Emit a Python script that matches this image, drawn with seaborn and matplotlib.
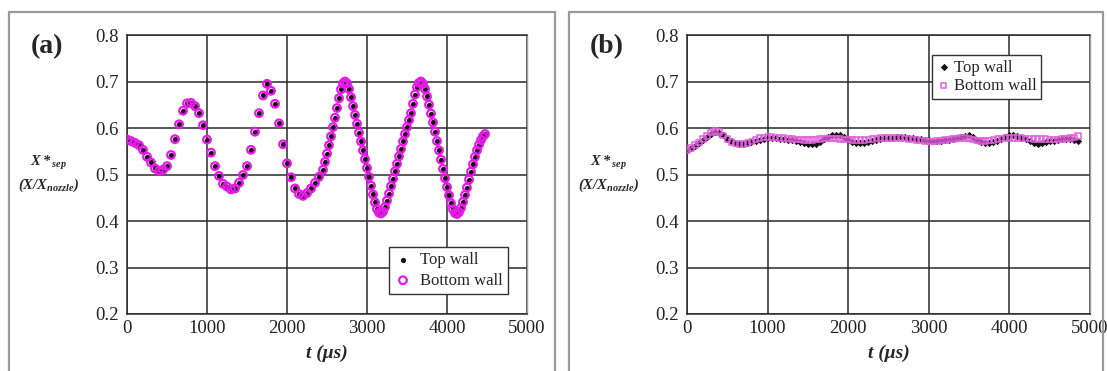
import numpy as np
import pandas as pd
import matplotlib
matplotlib.use("Agg")
import matplotlib.pyplot as plt
import seaborn as sns
from matplotlib.ticker import MultipleLocator, FormatStrFormatter
from matplotlib.patches import Rectangle

# ---------------- data ----------------
# Panel (a): sparse part (every 50 us) then dense part (every 25 us)
t_a_sparse = list(range(0, 2450, 50))
x_a_sparse = [0.575, 0.572, 0.568, 0.563, 0.553, 0.538, 0.526, 0.513, 0.508, 0.510,
              0.518, 0.542, 0.576, 0.608, 0.637, 0.653, 0.654, 0.647, 0.632, 0.606,
              0.575, 0.547, 0.518, 0.497, 0.480, 0.474, 0.468, 0.470, 0.482, 0.499,
              0.518, 0.553, 0.592, 0.632, 0.670, 0.695, 0.680, 0.652, 0.610, 0.565,
              0.524, 0.494, 0.470, 0.458, 0.454, 0.460, 0.470, 0.482, 0.495]
t_a_dense = list(range(2450, 4500, 25))
x_a_dense = [0.510, 0.527, 0.545, 0.563, 0.582, 0.602, 0.622, 0.643, 0.664, 0.683,
             0.696, 0.700, 0.696, 0.684, 0.666, 0.647, 0.628, 0.609, 0.590, 0.571,
             0.552, 0.533, 0.514, 0.495, 0.476, 0.457, 0.440, 0.426, 0.418, 0.416,
             0.420, 0.430, 0.444, 0.459, 0.475, 0.491, 0.507, 0.523, 0.539, 0.555,
             0.571, 0.587, 0.602, 0.617, 0.632, 0.652, 0.672, 0.688, 0.697, 0.700,
             0.695, 0.684, 0.668, 0.650, 0.631, 0.612, 0.592, 0.572, 0.552, 0.532,
             0.512, 0.492, 0.473, 0.455, 0.438, 0.425, 0.417, 0.415, 0.419, 0.428,
             0.441, 0.456, 0.472, 0.489, 0.506, 0.522, 0.538, 0.552, 0.564, 0.574,
             0.582, 0.587]

# Panel (b): every 50 us
t_b = list(range(0, 4900, 50))
x_b_top = [0.552, 0.556, 0.562, 0.567, 0.574, 0.581, 0.588, 0.592, 0.590, 0.584,
           0.577, 0.572, 0.568, 0.566, 0.566, 0.567, 0.569, 0.572, 0.575, 0.577,
           0.578, 0.578, 0.578, 0.577, 0.576, 0.575, 0.574, 0.573, 0.570, 0.567,
           0.566, 0.565, 0.566, 0.570, 0.576, 0.581, 0.584, 0.585, 0.584, 0.580,
           0.575, 0.570, 0.567, 0.567, 0.567, 0.569, 0.572, 0.575, 0.577, 0.578,
           0.579, 0.579, 0.580, 0.580, 0.580, 0.579, 0.578, 0.577, 0.576, 0.575,
           0.574, 0.572, 0.572, 0.573, 0.574, 0.575, 0.577, 0.579, 0.581, 0.583,
           0.584, 0.580, 0.574, 0.570, 0.568, 0.568, 0.570, 0.573, 0.577, 0.581,
           0.584, 0.584, 0.582, 0.579, 0.576, 0.572, 0.568, 0.566, 0.567, 0.569,
           0.571, 0.573, 0.575, 0.576, 0.577, 0.577, 0.575, 0.571]
x_b_bottom = [0.552, 0.557, 0.563, 0.569, 0.576, 0.583, 0.590, 0.594, 0.591, 0.584,
              0.576, 0.570, 0.567, 0.566, 0.566, 0.568, 0.571, 0.575, 0.578, 0.580,
              0.581, 0.581, 0.580, 0.579, 0.578, 0.577, 0.576, 0.575, 0.575, 0.574,
              0.574, 0.574, 0.575, 0.576, 0.577, 0.577, 0.577, 0.577, 0.576, 0.575,
              0.575, 0.574, 0.574, 0.574, 0.574, 0.575, 0.576, 0.577, 0.578, 0.579,
              0.579, 0.579, 0.579, 0.578, 0.577, 0.576, 0.575, 0.574, 0.573, 0.572,
              0.571, 0.571, 0.572, 0.573, 0.574, 0.575, 0.576, 0.577, 0.578, 0.578,
              0.577, 0.575, 0.573, 0.572, 0.572, 0.573, 0.574, 0.576, 0.577, 0.578,
              0.579, 0.579, 0.578, 0.578, 0.577, 0.577, 0.576, 0.576, 0.576, 0.576,
              0.575, 0.575, 0.575, 0.576, 0.577, 0.578, 0.580, 0.583]

series_labels = ["Top wall", "Bottom wall"]
panel_labels = ["(a)", "(b)"]
x_ticks = [0, 1000, 2000, 3000, 4000, 5000]
y_ticks = [0.2, 0.3, 0.4, 0.5, 0.6, 0.7, 0.8]

# ---------------- style ----------------
sns.set_style("white")
plt.rcParams["font.family"] = ["Liberation Serif", "DejaVu Serif"]
plt.rcParams["mathtext.fontset"] = "custom"
plt.rcParams["mathtext.rm"] = "Liberation Serif"
plt.rcParams["mathtext.it"] = "Liberation Serif:italic"
plt.rcParams["mathtext.bf"] = "Liberation Serif:bold:italic"

MAG = "#e619e6"
MAG_B = "#e060dc"
BLK = "#1a0d1a"
GRID = "#2a2a2a"

fig = plt.figure(figsize=(11.07, 3.71), dpi=100)
W, H = 1107, 371

def fx(px):
    return px / W

def fy(py):
    return 1 - py / H

ax_a = fig.add_axes([fx(127), fy(314), fx(527) - fx(127), fy(35) - fy(314)])
ax_b = fig.add_axes([fx(687), fy(314), fx(1090) - fx(687), fy(35) - fy(314)])

# panel frames
for x0, x1 in [(9, 555), (569, 1103)]:
    fig.patches.append(Rectangle((fx(x0), fy(400)), fx(x1) - fx(x0), fy(12) - fy(400),
                                 transform=fig.transFigure, fill=False,
                                 edgecolor="#9a9a9a", linewidth=1.6, clip_on=False))

# ---- panel (a) data
df_a = pd.DataFrame({"t": t_a_sparse + t_a_dense, "x": x_a_sparse + x_a_dense})
sns.scatterplot(data=df_a, x="t", y="x", ax=ax_a, marker="o", s=14, color=BLK,
                edgecolor=BLK, linewidth=0, label=series_labels[0], zorder=3)
sns.scatterplot(data=df_a, x="t", y="x", ax=ax_a, marker="o", s=30, facecolor="none",
                edgecolor=MAG, linewidth=1.6, label=series_labels[1], zorder=4)

# ---- panel (b) data
df_b = pd.DataFrame({"t": t_b, "top": x_b_top, "bottom": x_b_bottom})
sns.scatterplot(data=df_b, x="t", y="top", ax=ax_b, marker="D", s=10, color=BLK,
                edgecolor=BLK, linewidth=0.6, label=series_labels[0], zorder=3)
sns.scatterplot(data=df_b, x="t", y="bottom", ax=ax_b, marker="s", s=16, facecolor="none",
                edgecolor=MAG_B, linewidth=1.1, label=series_labels[1], zorder=4)

for ax, lab, lx in [(ax_a, panel_labels[0], 47), (ax_b, panel_labels[1], 607)]:
    ax.set_xlim(0, 5000)
    ax.set_ylim(0.2, 0.8)
    ax.set_xticks(x_ticks)
    ax.set_yticks(y_ticks)
    ax.yaxis.set_major_formatter(FormatStrFormatter("%.1f"))
    ax.xaxis.set_minor_locator(MultipleLocator(200))
    ax.yaxis.set_minor_locator(MultipleLocator(0.02))
    ax.tick_params(axis="both", which="major", direction="in", length=0,
                   labelsize=13.5, labelcolor="#222222")
    ax.tick_params(axis="x", which="major", pad=4)
    ax.tick_params(axis="y", which="major", pad=6)
    ax.tick_params(axis="both", which="minor", direction="in", length=3.5,
                   width=0.8, color="#555555")
    ax.grid(True, which="major", color=GRID, linewidth=1.1)
    ax.set_axisbelow(True)
    for side in ["left", "bottom", "top"]:
        ax.spines[side].set_color(GRID)
        ax.spines[side].set_linewidth(1.1)
    ax.spines["right"].set_color("#a0a0a0")
    ax.spines["right"].set_linewidth(1.0)
    ax.set_xlabel("")
    ax.set_ylabel("")
    # panel label
    fig.text(fx(lx), fy(47), lab, fontsize=20, fontweight="bold", ha="center", va="center")
    # axis labels
    xc = (ax.get_position().x0 + ax.get_position().x1) / 2
    fig.text(xc, fy(353), "t (μs)", fontsize=14, fontstyle="italic", fontweight="bold",
             ha="center", va="center")
    ylx = lx + 2
    fig.text(fx(ylx), fy(163), r"$\mathbf{X*}_{\mathbf{sep}}$", fontsize=10.5,
             ha="center", va="center")
    fig.text(fx(ylx), fy(185), r"$\mathbf{(X/X}_{\mathbf{nozzle}}\mathbf{)}$", fontsize=10.5,
             ha="center", va="center")

leg_a = ax_a.legend(loc="lower right", bbox_to_anchor=(0.953, 0.07), fontsize=12,
                    frameon=True, fancybox=False, edgecolor="#333333", framealpha=1,
                    handletextpad=0.5, borderpad=0.35, labelspacing=0.25, handlelength=1.0,
                    borderaxespad=0)
leg_a.get_frame().set_linewidth(1.0)
leg_b = ax_b.legend(loc="upper left", bbox_to_anchor=(0.608, 0.93), fontsize=12,
                    frameon=True, fancybox=False, edgecolor="#333333", framealpha=1,
                    handletextpad=0.2, borderpad=0.3, labelspacing=0.15, handlelength=0.8,
                    borderaxespad=0)
leg_b.get_frame().set_linewidth(1.0)

fig.savefig("out.png", dpi=100)
